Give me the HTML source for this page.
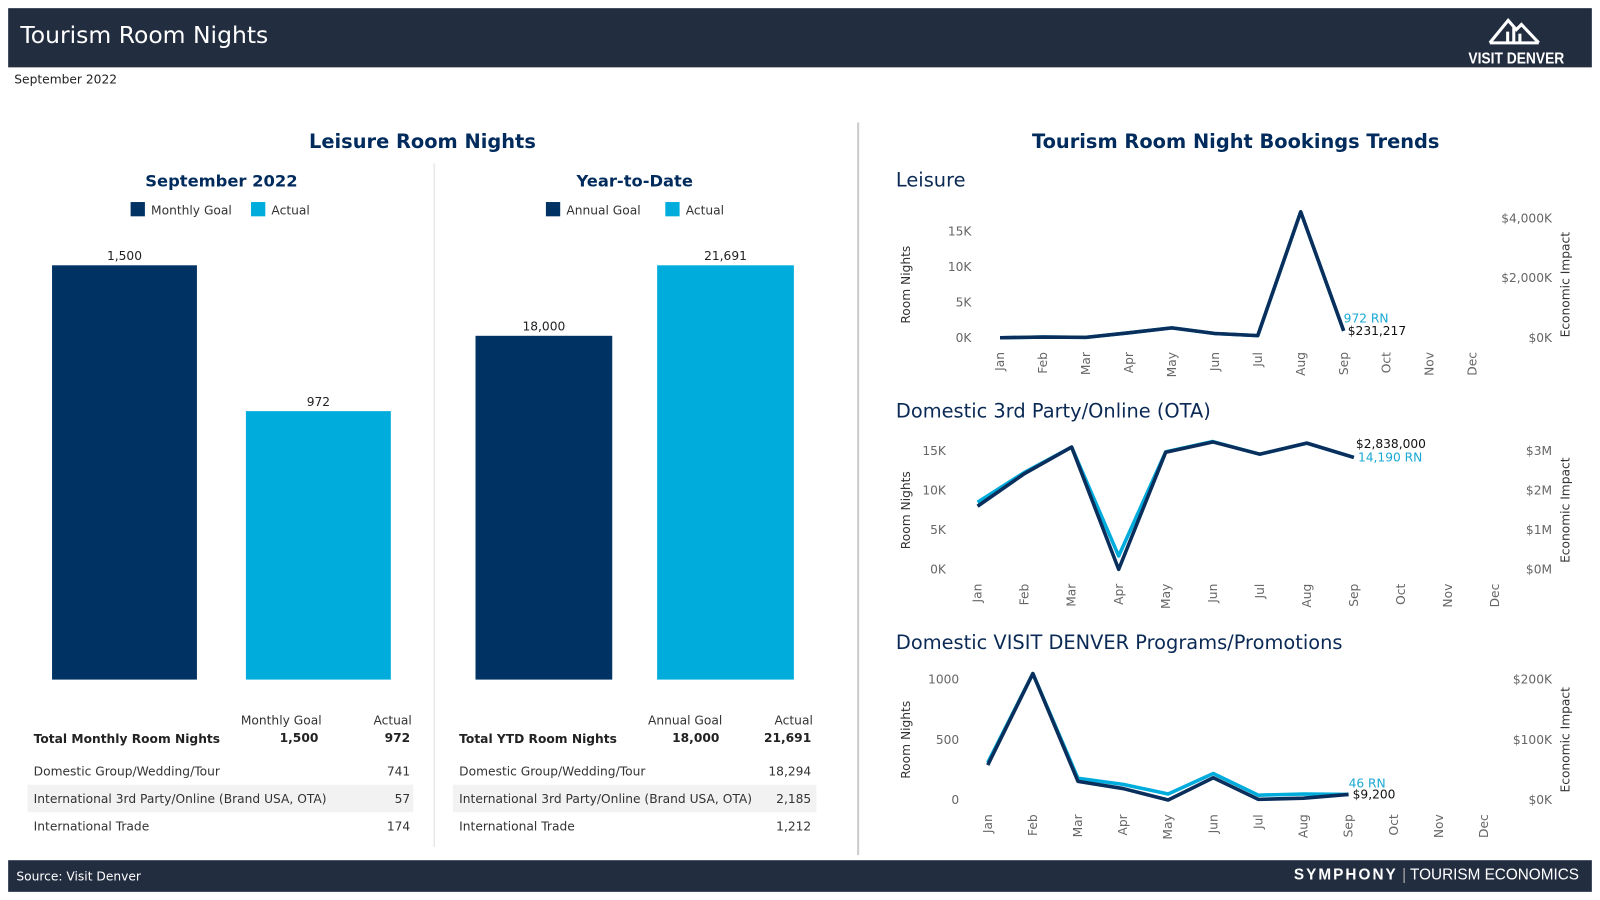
<!DOCTYPE html>
<html><head><meta charset="utf-8">
<style>
html,body{margin:0;padding:0;background:#fff;width:1600px;height:900px;overflow:hidden}
#wrap{position:absolute;left:0;top:0;width:1568px;height:882px;transform:scale(1.020408);transform-origin:0 0;font-family:"DejaVu Sans","Liberation Sans",sans-serif;color:#333}
.abs{position:absolute}
.hdr{left:8px;top:8px;width:1552px;height:58px;background:#232d40}
.ftr{left:8px;top:843px;width:1552px;height:31px;background:#232d40}
.t{white-space:nowrap}
.title{color:#002b5c;font-weight:bold;font-size:19px}
.sub{color:#002b5c;font-weight:bold;font-size:16px}
.leg{font-size:12px;color:#333}
.sw{display:inline-block;width:14px;height:14px;vertical-align:-2px;margin-right:6px}
.tb{font-size:12px;color:#333}
.ct{color:#0a2a55;font-size:19px}
</style></head><body>
<div id="wrap">
<div class="abs hdr">
  <div class="abs t" style="left:12px;top:14px;font-size:23px;color:#fff">Tourism Room Nights</div>
  <svg class="abs" style="left:1428px;top:4px" width="100" height="52">
    <polyline points="24,30 42,8 50,17 55,12 72,30" fill="none" stroke="#fff" stroke-width="3"/>
    <line x1="24" y1="30" x2="72" y2="30" stroke="#fff" stroke-width="3"/>
    <rect x="40" y="19" width="3" height="11" fill="#fff"/><rect x="46" y="15" width="3" height="15" fill="#fff"/><rect x="52" y="21" width="3" height="9" fill="#fff"/>
    <text x="50" y="50" fill="#fff" font-size="15" font-weight="bold" text-anchor="middle" font-family="Liberation Sans" textLength="94" lengthAdjust="spacingAndGlyphs">VISIT DENVER</text>
  </svg>
</div>
<div class="abs t" style="left:14px;top:71px;font-size:12px;color:#222">September 2022</div>

<div class="abs t title" style="left:0;width:828px;text-align:center;top:128px">Leisure Room Nights</div>
<div class="abs t title" style="left:855px;width:712px;text-align:center;top:128px">Tourism Room Night Bookings Trends</div>
<div class="abs" style="left:425px;top:160px;width:1px;height:670px;background:#ddd"></div>
<div class="abs" style="left:840px;top:120px;width:2px;height:718px;background:#ccc"></div>

<div class="abs t sub" style="left:17px;width:400px;text-align:center;top:168px">September 2022</div>
<div class="abs t leg" style="left:128px;top:198px"><span class="sw" style="background:#003263"></span>Monthly Goal</div>
<div class="abs t leg" style="left:246px;top:198px"><span class="sw" style="background:#00acdc"></span>Actual</div>
<div class="abs t sub" style="left:422px;width:400px;text-align:center;top:168px">Year-to-Date</div>
<div class="abs t leg" style="left:535px;top:198px"><span class="sw" style="background:#003263"></span>Annual Goal</div>
<div class="abs t leg" style="left:652px;top:198px"><span class="sw" style="background:#00acdc"></span>Actual</div>

<svg id="bars" class="abs" style="left:0;top:0" width="840" height="700"></svg>

<div class="abs tb t" style="left:236px;top:699px">Monthly Goal</div>
<div class="abs tb t" style="left:366px;top:699px">Actual</div>
<div class="abs tb t" style="left:33px;top:717px;font-weight:bold;color:#222">Total Monthly Room Nights</div>
<div class="abs tb t" style="left:212px;width:100px;text-align:right;top:716px;font-weight:bold;color:#222">1,500</div>
<div class="abs tb t" style="left:302px;width:100px;text-align:right;top:716px;font-weight:bold;color:#222">972</div>
<div class="abs" style="left:27px;top:769px;width:378px;height:27px;background:#f2f2f2"></div>
<div class="abs tb t" style="left:33px;top:749px">Domestic Group/Wedding/Tour</div>
<div class="abs tb t" style="left:302px;width:100px;text-align:right;top:749px">741</div>
<div class="abs tb t" style="left:33px;top:776px">International 3rd Party/Online (Brand USA, OTA)</div>
<div class="abs tb t" style="left:302px;width:100px;text-align:right;top:776px">57</div>
<div class="abs tb t" style="left:33px;top:803px">International Trade</div>
<div class="abs tb t" style="left:302px;width:100px;text-align:right;top:803px">174</div>

<div class="abs tb t" style="left:635px;top:699px">Annual Goal</div>
<div class="abs tb t" style="left:759px;top:699px">Actual</div>
<div class="abs tb t" style="left:450px;top:717px;font-weight:bold;color:#222">Total YTD Room Nights</div>
<div class="abs tb t" style="left:605px;width:100px;text-align:right;top:716px;font-weight:bold;color:#222">18,000</div>
<div class="abs tb t" style="left:695px;width:100px;text-align:right;top:716px;font-weight:bold;color:#222">21,691</div>
<div class="abs" style="left:444px;top:769px;width:356px;height:27px;background:#f2f2f2"></div>
<div class="abs tb t" style="left:450px;top:749px">Domestic Group/Wedding/Tour</div>
<div class="abs tb t" style="left:695px;width:100px;text-align:right;top:749px">18,294</div>
<div class="abs tb t" style="left:450px;top:776px">International 3rd Party/Online (Brand USA, OTA)</div>
<div class="abs tb t" style="left:695px;width:100px;text-align:right;top:776px">2,185</div>
<div class="abs tb t" style="left:450px;top:803px">International Trade</div>
<div class="abs tb t" style="left:695px;width:100px;text-align:right;top:803px">1,212</div>

<div class="abs t ct" style="left:878px;top:166px">Leisure</div>
<div class="abs t ct" style="left:878px;top:392px">Domestic 3rd Party/Online (OTA)</div>
<div class="abs t ct" style="left:878px;top:619px">Domestic VISIT DENVER Programs/Promotions</div>
<svg id="lines" class="abs" style="left:0;top:0" width="1568" height="840"></svg>

<div class="abs ftr">
  <div class="abs t" style="left:8px;top:9px;font-size:12px;color:#fff">Source: Visit Denver</div>
  <div class="abs t" style="left:1260px;top:6px;font-size:15px;color:#fff;font-family:'Liberation Sans',sans-serif"><b style="letter-spacing:2px">SYMPHONY</b> <span style="color:#aaa">|</span> TOURISM ECONOMICS</div>
</div>
</div>
<script>
const NS="http://www.w3.org/2000/svg";
const barCats=["Monthly Goal","Actual","Annual Goal","YTD Actual"];
const barVals=[1500,972,18000,21691];
const barLabels=["1,500","972","18,000","21,691"];
const months=["Jan","Feb","Mar","Apr","May","Jun","Jul","Aug","Sep","Oct","Nov","Dec"];
const leisureRN=[0,100,50,700,1400,600,300,17800,972];
const leisureEI=[0,24,12,166,332,142,71,4219,231];
const otaRN=[8500,12300,15500,1700,14900,16200,14600,16000,14190];
const otaEI=[1.6,2.43,3.1,0,2.97,3.23,2.92,3.2,2.838];
const promoRN=[310,1050,180,130,50,220,40,50,46];
const promoEI=[58,210,31,19,0,37,1,3,9.2];
const leisureTicks=[0,5,10,15], leisureEITicks=[0,2000,4000];
const otaTicks=[0,5,10,15], otaEITicks=[0,1,2,3];
const promoTicks=[0,500,1000], promoEITicks=[0,100,200];

function el(parent,tag,attrs,text){const e=document.createElementNS(NS,tag);for(const k in attrs)e.setAttribute(k,attrs[k]);if(text!==undefined)e.textContent=text;parent.appendChild(e);return e;}

const bs=document.getElementById('bars');
const groups=[{i:[0,1],x:[51,241],w:142,max:1500},{i:[2,3],x:[466,644],w:134,max:21691}];
const base=666,hgt=406;
groups.forEach(g=>{g.i.forEach((idx,j)=>{
  const h=barVals[idx]/g.max*hgt;
  const r=el(bs,'rect',{x:g.x[j],y:base-h,width:g.w,height:h,fill:j==0?'#003263':'#00acdc'});
  
  
  const t=el(bs,'text',{x:g.x[j]+g.w/2,y:base-h-5,'text-anchor':'middle','font-size':12,fill:'#222'},barLabels[idx]);
  
  
});});

const ls=document.getElementById('lines');
function chart(o){
  const xs=i=>o.x0+i*o.step;
  const yl=v=>o.y0-v/o.lmax*(o.y0-o.ytop);
  const yr=v=>o.y0-v/o.rmax*(o.y0-o.rtop);
  o.lt.forEach(v=>{const t=el(ls,'text',{x:o.lx,y:yl(v*o.lm)+4,'text-anchor':'end','font-size':12,fill:'#666'},o.lf(v));});
  o.rt.forEach(v=>{const t=el(ls,'text',{x:o.rx,y:yr(v)+4,'text-anchor':'end','font-size':12,fill:'#666'},o.rf(v));});
  months.forEach((m,i)=>{const t=el(ls,'text',{transform:`translate(${xs(i)+4},${o.y0+14}) rotate(-90)`,'text-anchor':'end','font-size':12,fill:'#666'},m);});
  const a=el(ls,'text',{transform:`translate(${o.ax},${(o.y0+o.ytop)/2}) rotate(-90)`,'text-anchor':'middle','font-size':12,fill:'#333'},'Room Nights');
  const b=el(ls,'text',{transform:`translate(${o.bx},${(o.y0+o.ytop)/2}) rotate(-90)`,'text-anchor':'middle','font-size':12,fill:'#333'},'Economic Impact');
  const p1=el(ls,'polyline',{points:o.rn.map((v,i)=>xs(i)+','+yl(v)).join(' '),fill:'none',stroke:'#00acdc','stroke-width':3.5,'stroke-linejoin':'round'});
  
  const p2=el(ls,'polyline',{points:o.ei.map((v,i)=>xs(i)+','+yr(v)).join(' '),fill:'none',stroke:'#0a2f5c','stroke-width':3.5,'stroke-linejoin':'round'});
  
  const n=o.rn.length-1;
  const t1=el(ls,'text',{x:xs(n)+o.l1[0],y:yl(o.rn[n])+o.l1[1],'font-size':12,fill:'#1aa8d6'},o.rnLabel);
  const t2=el(ls,'text',{x:xs(n)+o.l2[0],y:yr(o.ei[n])+o.l2[1],'font-size':12,fill:'#111'},o.eiLabel);
}
chart({x0:980,step:42.1,y0:331,ytop:227,lmax:15000,rtop:214,rmax:4000,lt:leisureTicks,lm:1000,lf:v=>v+'K',rt:leisureEITicks,rf:v=>'$'+(v?v.toLocaleString('en-US'):0)+'K',lx:952,rx:1521,ax:892,bx:1538,rn:leisureRN,ei:leisureEI,rnLabel:'972 RN',eiLabel:'$231,217',l1:[0,-8],l2:[4,4]});
chart({x0:958,step:46.1,y0:558,ytop:442,lmax:15000,rtop:442,rmax:3,lt:otaTicks,lm:1000,lf:v=>v+'K',rt:otaEITicks,rf:v=>'$'+v+'M',lx:927,rx:1521,ax:892,bx:1538,rn:otaRN,ei:otaEI,rnLabel:'14,190 RN',eiLabel:'$2,838,000',l1:[4,4],l2:[2,-9]});
chart({x0:968,step:44.2,y0:784,ytop:666,lmax:1000,rtop:666,rmax:200,lt:promoTicks,lm:1,lf:v=>String(v),rt:promoEITicks,rf:v=>'$'+v+'K',lx:940,rx:1521,ax:892,bx:1538,rn:promoRN,ei:promoEI,rnLabel:'46 RN',eiLabel:'$9,200',l1:[0,-7],l2:[4,4]});
</script>
</body></html>
